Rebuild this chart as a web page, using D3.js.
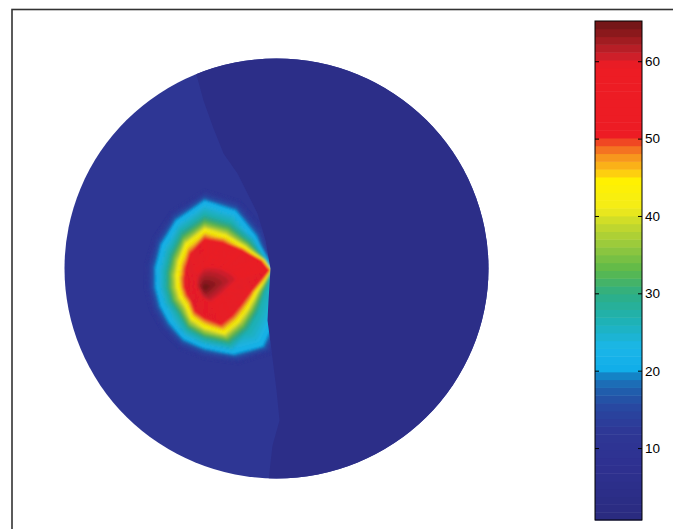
<!DOCTYPE html>
<html>
<head>
<meta charset="utf-8">
<script src="https://cdn.jsdelivr.net/npm/d3@7"></script>
<style>
html, body { margin: 0; padding: 0; background: #fff; }
svg { display: block; }
</style>
</head>
<body>
<div id="chart"></div>
<script>
// ---- data (disc coordinates, origin at disc centre, y pointing down) ----
var boundaryX = [-86, -79, -73, -63, -53, -39, -29, -19, -11, -6, -8, -9, -5, 0, 3, -4, -10];
var boundaryY = [-215, -190, -168, -140, -115, -95, -75, -55, -28, 0, 32, 52, 82, 122, 152, 177, 230];
var leftValue = 11, rightValue = 4;

var spotCenter = [-72, 19], spotPeak = 65;
var spotAngles = [-15, 5, 25, 45, 66, 90, 112, 135, 157, 180, 202, 225, 247, 270, 292, 315, 335];
var ringValues = [60, 50, 42, 34, 27, 22, 15, 11];
var ring60 = [32, 21, 17, 15, 15, 11, 8, 6, 6, 7, 8, 10, 14, 19, 21, 25, 30];
var ring50 = [67, 47, 41, 40, 41, 31, 26, 19, 19, 20, 22, 27, 37, 49, 49, 53, 63];
var ring42 = [68, 52, 48, 48, 50, 40, 34, 26, 26, 27, 30, 36, 47, 58, 56, 57, 65];
var ring34 = [69, 56, 53, 54, 56, 46, 40, 32, 32, 33, 36, 42, 53, 64, 62, 61, 66];
var ring27 = [69, 60, 59, 61, 63, 52, 46, 38, 38, 39, 42, 49, 61, 73, 70, 66, 67];
var ring22 = [69.5, 71, 76, 81, 71, 59, 54, 48, 46, 47, 51, 59, 71, 85, 81, 71, 68.5];
var ring15 = [72, 77, 82, 87, 77, 65, 60, 54, 52, 53, 57, 65, 77, 91, 87, 77, 71];
var ring11 = [75, 83, 88, 93, 83, 71, 66, 60, 58, 59, 63, 71, 83, 97, 93, 83, 74];
var ringRadii = [ring60, ring50, ring42, ring34, ring27, ring22, ring15, ring11];

var cbarTicks = [10, 20, 30, 40, 50, 60];
var cmin = 0.7, cmax = 65.2, nColors = 64;
var cmapValues = [0.7, 8, 12, 15, 17, 18.8, 19.8, 20.2, 23, 26.5, 30, 33, 36, 39, 41, 44.5, 46, 48, 49.5, 50.5, 59.5, 61, 63, 65.2];
var cmapColors = ['#2a2b7f', '#2e3191', '#2e3795', '#2945a0', '#2158a9', '#1a74bb', '#0f90d0', '#10aee9',
                  '#1bb6e8', '#1eb2b5', '#2eae84', '#5cb94a', '#94c83e', '#c6d92c', '#f3ec19', '#fff200',
                  '#fcc016', '#f68b1f', '#f04b23', '#ed1c24', '#ed1c24', '#c5202a', '#9a1b1f', '#6a1416'];

// ---- setup ----
var W = 673, H = 529;
var svg = d3.select('#chart').append('svg').attr('width', W).attr('height', H);

var x = d3.scaleLinear().domain([-212, 212]).range([64.5, 488.5]);
var y = d3.scaleLinear().domain([-210, 210]).range([58.5, 478.5]);

var cmap = d3.scaleLinear().domain(cmapValues).range(cmapColors).interpolate(d3.interpolateRgb).clamp(true);
var bw = (cmax - cmin) / nColors;
var bandColor = function(k){ return cmap(cmin + (k + 0.5) * bw); };
var bandOf = function(v){ return Math.max(0, Math.min(nColors - 1, Math.floor((v - cmin) / bw))); };

// outer frame
svg.append('rect')
    .attr('x', 12).attr('y', 9.5).attr('width', 700).attr('height', 600)
    .attr('fill', 'none').attr('stroke', '#333').attr('stroke-width', 1.6);

var defs = svg.append('defs');
var bpts = boundaryX.map(function(bx, i){ return [x(bx), y(boundaryY[i])]; });
var line = d3.line();

defs.append('clipPath').attr('id', 'disc')
    .append('ellipse')
    .attr('cx', x(0)).attr('cy', y(0))
    .attr('rx', x(212) - x(0)).attr('ry', y(210) - y(0));

var leftPoly = bpts.concat([[x(-300), y(230)], [x(-300), y(-215)]]);
var rightPoly = bpts.concat([[x(300), y(230)], [x(300), y(-215)]]);
defs.append('clipPath').attr('id', 'leftside')
    .append('path').attr('d', line(leftPoly) + 'Z');
defs.append('filter').attr('id', 'soft')
    .attr('x', '-20%').attr('y', '-20%').attr('width', '140%').attr('height', '140%')
    .append('feGaussianBlur').attr('stdDeviation', 1.3);

var disc = svg.append('g').attr('clip-path', 'url(#disc)');

// left (whole disc) and right material regions
disc.append('rect').attr('x', 0).attr('y', 0).attr('width', W).attr('height', H)
    .attr('fill', bandColor(bandOf(leftValue)));
disc.append('path').attr('d', line(rightPoly) + 'Z')
    .attr('fill', bandColor(bandOf(rightValue)));

// ---- hot spot mesh ----
var nDir = spotAngles.length;
var peak = {x: x(spotCenter[0]), y: y(spotCenter[1]), v: spotPeak};
var nodes = ringRadii.map(function(radii, k){
    return spotAngles.map(function(a, j){
        var t = a * Math.PI / 180;
        return {x: x(spotCenter[0] + radii[j] * Math.cos(t)),
                y: y(spotCenter[1] + radii[j] * Math.sin(t)),
                v: ringValues[k]};
    });
});
var tris = [];
for (var j = 0; j < nDir; j++) {
    var j2 = (j + 1) % nDir;
    tris.push([peak, nodes[0][j], nodes[0][j2]]);
    for (var k = 0; k < nodes.length - 1; k++) {
        var a = nodes[k][j], b = nodes[k][j2], c = nodes[k + 1][j2], d = nodes[k + 1][j];
        tris.push([a, b, c]);
        tris.push([a, c, d]);
    }
}

// clip a polygon to the part above / below a level (values linear along edges)
function clipPoly(poly, level, above) {
    var out = [];
    for (var i = 0; i < poly.length; i++) {
        var p = poly[i], q = poly[(i + 1) % poly.length];
        var pin = above ? p.v >= level : p.v <= level,
            qin = above ? q.v >= level : q.v <= level;
        if (pin) out.push(p);
        if (pin !== qin) {
            var t = (level - p.v) / (q.v - p.v);
            out.push({x: p.x + t * (q.x - p.x), y: p.y + t * (q.y - p.y), v: level});
        }
    }
    return out;
}

var bandPaths = d3.range(nColors).map(function(){ return ''; });
tris.forEach(function(tri){
    var vs = tri.map(function(p){ return p.v; });
    var k0 = bandOf(d3.min(vs)), k1 = bandOf(d3.max(vs));
    for (var k = k0; k <= k1; k++) {
        var poly = tri;
        if (k > k0) poly = clipPoly(poly, cmin + k * bw, true);
        if (k < k1) poly = clipPoly(poly, cmin + (k + 1) * bw, false);
        if (poly.length < 3) continue;
        bandPaths[k] += 'M' + poly.map(function(p){ return p.x.toFixed(2) + ',' + p.y.toFixed(2); }).join('L') + 'Z';
    }
});

var spot = disc.append('g').attr('clip-path', 'url(#leftside)')
    .append('g').attr('filter', 'url(#soft)');
spot.selectAll('path')
    .data(bandPaths.map(function(p, k){ return {d: p, k: k}; }).filter(function(d){ return d.d; }))
    .enter().append('path')
    .attr('d', function(d){ return d.d; })
    .attr('fill', function(d){ return bandColor(d.k); })
    .attr('stroke', function(d){ return bandColor(d.k); })
    .attr('stroke-width', 0.4);

// ---- colorbar ----
var cb = {x: 595, w: 47, top: 21, bottom: 520};
var cy = d3.scaleLinear().domain([cmin, cmax]).range([cb.bottom, cb.top]);
var cbar = svg.append('g');
cbar.selectAll('rect.band')
    .data(d3.range(nColors))
    .enter().append('rect')
    .attr('class', 'band')
    .attr('x', cb.x)
    .attr('y', function(k){ return cy(cmin + (k + 1) * bw); })
    .attr('width', cb.w)
    .attr('height', function(k){ return cy(cmin + k * bw) - cy(cmin + (k + 1) * bw) + 0.5; })
    .attr('fill', bandColor);
cbar.append('rect')
    .attr('x', cb.x).attr('y', cb.top).attr('width', cb.w).attr('height', cb.bottom - cb.top)
    .attr('fill', 'none').attr('stroke', '#000').attr('stroke-width', 1);

var axL = cbar.append('g').attr('transform', 'translate(' + cb.x + ',0)')
    .call(d3.axisLeft(cy).tickValues(cbarTicks).tickSizeInner(-4).tickSizeOuter(0).tickFormat(''));
var axR = cbar.append('g').attr('transform', 'translate(' + (cb.x + cb.w) + ',0)')
    .call(d3.axisRight(cy).tickValues(cbarTicks).tickSizeInner(-4).tickSizeOuter(0).tickPadding(3));
cbar.selectAll('.domain').remove();
cbar.selectAll('.tick line').attr('stroke', '#000');
axR.selectAll('text')
    .attr('font-family', '"Liberation Sans", Arial, sans-serif')
    .attr('font-size', '13.5px')
    .attr('fill', '#000');
</script>
</body>
</html>
